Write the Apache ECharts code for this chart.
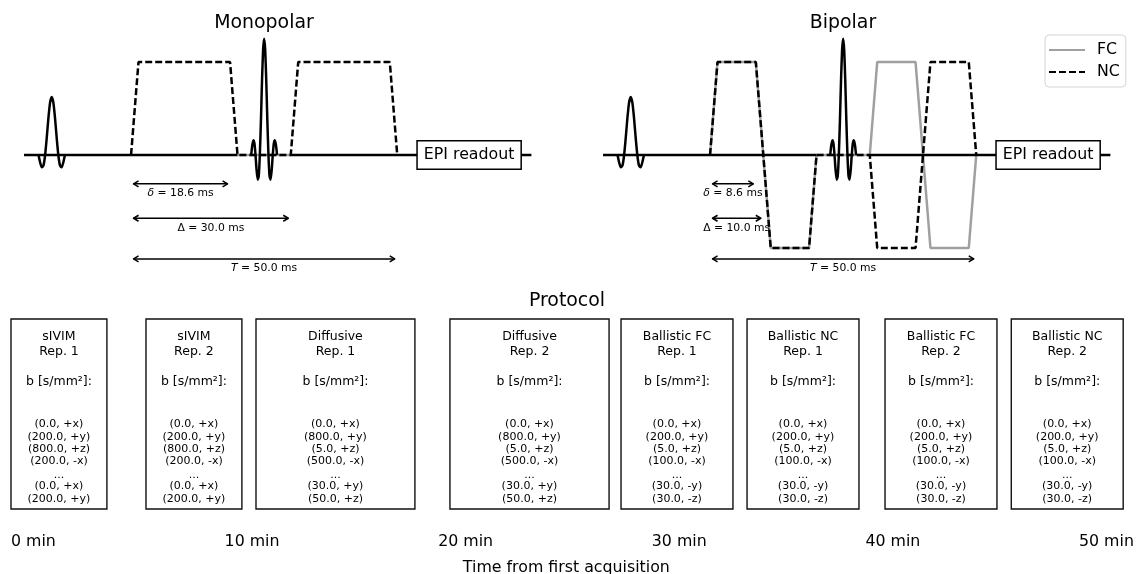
<!DOCTYPE html>
<html lang="en">
<head>
<meta charset="utf-8">
<title>Protocol</title>
<style>
  html, body { margin: 0; padding: 0; background: #fff; }
  #main { width: 1137px; height: 574px; }
</style>
<script src="https://cdn.jsdelivr.net/npm/echarts@6/dist/echarts.min.js"></script>
</head>
<body>
<div id="main"></div>
<script type="text/javascript">
// pulse sequence, time in ms, amplitude relative to gradient plateau
const rfExciteTime = [-17.38, -17.07, -16.76, -16.45, -16.14, -15.83, -15.52, -15.21, -14.9, -14.59, -14.28, -13.97, -13.66, -13.35, -13.04, -12.73, -12.42];
const rfExciteAmp = [0, -0.081, -0.133, -0.113, 0, 0.188, 0.398, 0.563, 0.625, 0.563, 0.398, 0.188, 0, -0.113, -0.133, -0.081, 0];
const rfRefocusTime = [22.57, 22.77, 22.98, 23.18, 23.38, 23.58, 23.79, 23.99, 24.19, 24.4, 24.6, 24.8, 25, 25.2, 25.4, 25.6, 25.81, 26.01, 26.21, 26.42, 26.62, 26.82, 27.02, 27.23, 27.43];
const rfRefocusAmp = [0, 0.103, 0.159, 0.125, 0, -0.161, -0.265, -0.225, 0, 0.375, 0.796, 1.125, 1.25, 1.125, 0.796, 0.375, 0, -0.225, -0.265, -0.161, 0, 0.125, 0.159, 0.103, 0];
const baselineLeft = [-20.1, 20];
const baselineRight = [30, 75.2];
const epiCentre = [63.5];

const monoTime = [0, 1.4, 18.6, 20, 30, 31.4, 48.6, 50];
const monoAmp = [0, 1, 1, 0, 0, 1, 1, 0];
const bipoTime = [0, 1.4, 8.6, 10, 11.4, 18.6, 20, 30, 31.4, 38.6, 40, 41.4, 48.6, 50];
const bipoFC = [0, 1, 1, 0, -1, -1, 0, 0, 1, 1, 0, -1, -1, 0];
const bipoNC = [0, 1, 1, 0, -1, -1, 0, 0, -1, -1, 0, 1, 1, 0];

const arrowLevel = [-0.31, -0.68, -1.118];
const arrowSymbol = ['δ', 'Δ', 'T'];
const monoArrow = [18.6, 30.0, 50.0];
const bipoArrow = [8.6, 10.0, 50.0];

// protocol boxes, time in minutes
const boxName = ['sIVIM', 'sIVIM', 'Diffusive', 'Diffusive', 'Ballistic FC', 'Ballistic NC', 'Ballistic FC', 'Ballistic NC'];
const boxRep = [1, 2, 1, 2, 1, 1, 2, 2];
const boxStart = [0, 6.32, 11.47, 20.55, 28.56, 34.46, 40.92, 46.83];
const boxEnd = [4.49, 10.81, 18.91, 28.0, 33.8, 39.7, 46.16, 52.07];
const sivimRows = ['(0.0, +x)', '(200.0, +y)', '(800.0, +z)', '(200.0, -x)', '...', '(0.0, +x)', '(200.0, +y)'];
const diffusiveRows = ['(0.0, +x)', '(800.0, +y)', '(5.0, +z)', '(500.0, -x)', '...', '(30.0, +y)', '(50.0, +z)'];
const ballisticRows = ['(0.0, +x)', '(200.0, +y)', '(5.0, +z)', '(100.0, -x)', '...', '(30.0, -y)', '(30.0, -z)'];
const boxRows = [sivimRows, sivimRows, diffusiveRows, diffusiveRows, ballisticRows, ballisticRows, ballisticRows, ballisticRows];

const FONT = '"DejaVu Sans"';
const GRAY = '#a0a0a0';
const DASH = [7, 3];

function pairs(xs, ys) {
    return xs.map((x, i) => [x, ys[i]]);
}

function flat(xs) {
    return xs.map((x) => [x, 0]);
}

// baseline with a gap where the refocusing pulse sits
const baselineData = flat(baselineLeft).concat([[null, null]], flat(baselineRight));

function drawArrows(params, api) {
    let i = params.dataIndex;
    let left = api.coord([0, api.value(1)]);
    let right = api.coord([api.value(0), api.value(1)]);
    let y = left[1];
    let x0 = left[0] + 2.5;
    let x1 = right[0] - 2.5;
    let stroke = { stroke: '#000', fill: null, lineWidth: 1.5, lineJoin: 'round' };
    let sym = arrowSymbol[i] === 'Δ' ? '{u|Δ}' : '{i|' + arrowSymbol[i] + '}';
    return {
        type: 'group',
        children: [
            { type: 'polyline', shape: { points: [[x0, y], [x1, y]] }, style: stroke },
            { type: 'polyline', shape: { points: [[x0 + 5, y - 3], [x0, y], [x0 + 5, y + 3]] }, style: stroke },
            { type: 'polyline', shape: { points: [[x1 - 5, y - 3], [x1, y], [x1 - 5, y + 3]] }, style: stroke },
            {
                type: 'text',
                x: (x0 + x1) / 2,
                y: y + 9.5,
                style: {
                    text: sym + ' = ' + api.value(0).toFixed(1) + ' ms',
                    align: 'center',
                    verticalAlign: 'middle',
                    fontFamily: FONT,
                    fontSize: 10.8,
                    fill: '#000',
                    rich: {
                        i: { fontStyle: 'italic', fontFamily: FONT, fontSize: 10.8 },
                        u: { fontFamily: FONT, fontSize: 10.8 }
                    }
                }
            }
        ]
    };
}

function drawBox(params, api) {
    let i = params.dataIndex;
    let tl = api.coord([api.value(0), 1]);
    let br = api.coord([api.value(1), 0]);
    let cx = (tl[0] + br[0]) / 2;
    let top = tl[1];

    function line(text, dy, size) {
        return {
            type: 'text',
            x: cx,
            y: top + dy,
            style: { text: text, align: 'center', verticalAlign: 'middle', fontFamily: FONT, fontSize: size, fill: '#000' }
        };
    }

    let children = [
        {
            type: 'rect',
            shape: { x: tl[0], y: tl[1], width: br[0] - tl[0], height: br[1] - tl[1] },
            style: { fill: '#fff', stroke: '#111', lineWidth: 1.4 }
        },
        line(boxName[i], 18, 12.5),
        line('Rep. ' + boxRep[i], 32.5, 12.5),
        line('b [s/mm²]:', 62.5, 12.5)
    ];
    let rowY = [105.5, 118, 130.3, 142.6, 156, 167.6, 180];
    boxRows[i].forEach((r, k) => {
        children.push(line(r, rowY[k], 11));
    });
    return { type: 'group', children: children };
}

function rfSeries(axis) {
    return [
        { type: 'line', xAxisIndex: axis, yAxisIndex: axis, data: pairs(rfExciteTime, rfExciteAmp), smooth: 0.2, symbol: 'none', lineStyle: { color: '#000', width: 2.5 }, z: 5 },
        { type: 'line', xAxisIndex: axis, yAxisIndex: axis, data: pairs(rfRefocusTime, rfRefocusAmp), smooth: 0.2, symbol: 'none', lineStyle: { color: '#000', width: 2.5 }, z: 5 },
        { type: 'line', xAxisIndex: axis, yAxisIndex: axis, data: baselineData, connectNulls: false, symbol: 'none', lineStyle: { color: '#000', width: 2.4 }, z: 5 },
        {
            type: 'scatter', xAxisIndex: axis, yAxisIndex: axis, data: epiCentre.map((t) => [t, 0]), symbolSize: 0, z: 8,
            itemStyle: { opacity: 1 },
            label: {
                show: true, position: 'inside', formatter: 'EPI readout', fontFamily: FONT, fontSize: 15.8, color: '#000', opacity: 1,
                backgroundColor: '#fff', borderColor: '#000', borderWidth: 1.5, padding: [6, 6, 5, 6]
            }
        },
        {
            type: 'custom', xAxisIndex: axis, yAxisIndex: axis, renderItem: drawArrows, z: 6,
            data: arrowLevel.map((lv, i) => [axis === 0 ? monoArrow[i] : bipoArrow[i], lv])
        }
    ];
}

let Chart = echarts.init(document.getElementById('main'), null, { renderer: 'canvas' });

let hiddenTime = { type: 'value', show: false, min: -20.2, max: 75.2 };
let hiddenAmp = { type: 'value', show: false, min: -1.3, max: 1.4 };
let titleStyle = { fontFamily: FONT, fontWeight: 'normal', fontSize: 18.9, color: '#000' };

let option = {
    animation: false,
    backgroundColor: '#fff',
    textStyle: { fontFamily: FONT },
    title: [
        { text: 'Monopolar', left: 259, top: 9, textAlign: 'center', textStyle: titleStyle },
        { text: 'Bipolar', left: 838, top: 9, textAlign: 'center', textStyle: titleStyle },
        { text: 'Protocol', left: 562, top: 287, textAlign: 'center', textStyle: titleStyle }
    ],
    legend: {
        data: ['FC', 'NC'],
        orient: 'vertical',
        left: 1045,
        top: 35,
        padding: [7, 6, 7, 3],
        itemWidth: 36,
        itemHeight: 12,
        itemGap: 6,
        borderColor: '#d5d5d5',
        borderWidth: 1,
        borderRadius: 4,
        backgroundColor: '#fff',
        itemStyle: { opacity: 0 },
        textStyle: { fontFamily: FONT, fontSize: 15.8, color: '#000', padding: [0, 0, 0, 7] }
    },
    grid: [
        { left: 23.5, width: 507.9, top: 24.8, height: 251.1, outerBoundsMode: 'none' },
        { left: 602.5, width: 507.9, top: 24.8, height: 251.1, outerBoundsMode: 'none' },
        { left: 11, right: 15.3, top: 319, height: 190, outerBoundsMode: 'none' }
    ],
    xAxis: [
        Object.assign({ gridIndex: 0 }, hiddenTime),
        Object.assign({ gridIndex: 1 }, hiddenTime),
        {
            gridIndex: 2, type: 'value', min: 0, max: 52, interval: 10,
            name: 'Time from first acquisition',
            nameLocation: 'middle',
            nameGap: 51,
            nameTextStyle: { fontFamily: FONT, fontSize: 15.8, color: '#000' },
            axisLine: { show: false },
            axisTick: { show: false },
            splitLine: { show: false },
            axisLabel: {
                align: 'left', margin: 25, showMaxLabel: false, formatter: '{value} min',
                fontFamily: FONT, fontSize: 15.8, color: '#000'
            }
        }
    ],
    yAxis: [
        Object.assign({ gridIndex: 0 }, hiddenAmp),
        Object.assign({ gridIndex: 1 }, hiddenAmp),
        { gridIndex: 2, type: 'value', show: false, min: 0, max: 1 }
    ],
    series: [
        { name: 'FCmono', type: 'line', xAxisIndex: 0, yAxisIndex: 0, data: flat([20, 30]), symbol: 'none', lineStyle: { color: GRAY, width: 2.5 }, z: 2 },
        { name: 'NCmono', type: 'line', xAxisIndex: 0, yAxisIndex: 0, data: pairs(monoTime, monoAmp), symbol: 'none', lineStyle: { color: '#000', width: 2.5, type: DASH }, z: 3 },
        { name: 'FC', type: 'line', xAxisIndex: 1, yAxisIndex: 1, data: pairs(bipoTime, bipoFC), symbol: 'none', itemStyle: { color: GRAY }, lineStyle: { color: GRAY, width: 2.5 }, z: 2 },
        { name: 'NC', type: 'line', xAxisIndex: 1, yAxisIndex: 1, data: pairs(bipoTime, bipoNC), symbol: 'none', itemStyle: { color: '#000' }, lineStyle: { color: '#000', width: 2.5, type: DASH }, z: 3 }
    ].concat(rfSeries(0), rfSeries(1), [
        {
            type: 'custom', xAxisIndex: 2, yAxisIndex: 2, renderItem: drawBox,
            data: boxStart.map((s, i) => [s, boxEnd[i]])
        }
    ])
};

Chart.setOption(option);
</script>
</body>
</html>
